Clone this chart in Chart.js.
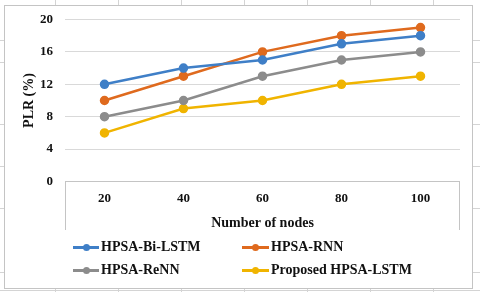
<!DOCTYPE html>
<html>
<head>
<meta charset="utf-8">
<script src="https://cdn.jsdelivr.net/npm/chart.js@4.4.1/dist/chart.umd.min.js"></script>
<style>
  html, body { margin: 0; padding: 0; background: #ffffff; }
  body { width: 480px; height: 292px; position: relative; overflow: hidden; }
  .vl { position: absolute; top: 0; width: 1px; height: 292px; background: #d4d4d4; }
  .hl { position: absolute; left: 0; height: 1px; width: 480px; background: #d4d4d4; }
  #frame { position: absolute; left: 4px; top: 5px; width: 467px; height: 282px;
           border: 1px solid #c4c4c4; background: #ffffff; }
  #frame canvas { position: absolute; left: 0; top: 0; }
  #legend { position: absolute; left: 0; top: 0; width: 480px; height: 292px; pointer-events: none; }
  .li { position: absolute; height: 20px; display: flex; align-items: center;
        font: bold 14px "Liberation Serif", "Times New Roman", serif; color: #111; white-space: nowrap; }
  .sw { position: relative; height: 20px; margin-right: 2px; }
  .sw .ln { position: absolute; left: 0; right: 0; top: 9px; height: 3px; }
  .sw .dt { position: absolute; width: 7px; height: 7px; border-radius: 50%; top: 7px; }
</style>
</head>
<body>
<div id="bg"></div>
<div id="frame"><canvas id="c" width="467" height="282"></canvas></div>
<div id="legend"></div>
<script>
// ---- data ----
const categories = ["20", "40", "60", "80", "100"];
const biLstm   = [12, 14, 15, 17, 18];
const rnn      = [10, 13, 16, 18, 19];
const reNN     = [8, 10, 13, 15, 16];
const proposed = [6, 9, 10, 12, 13];
const seriesNames = ["HPSA-Bi-LSTM", "HPSA-RNN", "HPSA-ReNN", "Proposed HPSA-LSTM"];
const yTicks = [0, 4, 8, 12, 16, 20];
const xTitle = "Number of nodes";
const yTitle = "PLR (%)";

// ---- spreadsheet background lines ----
const bg = document.getElementById('bg');
[55, 118, 181, 244, 307, 370, 433].forEach(x => {
  const d = document.createElement('div'); d.className = 'vl'; d.style.left = x + 'px'; bg.appendChild(d);
});
[40, 62, 124, 166, 208, 272, 290].forEach(y => {
  const d = document.createElement('div'); d.className = 'hl'; d.style.top = y + 'px'; bg.appendChild(d);
});

const colors = ["#3f7fc7", "#df6a1e", "#8c8c8c", "#f0b400"];
const seriesData = [biLstm, rnn, reNN, proposed];

const serif = "'Liberation Serif', 'Times New Roman', serif";

const boxPlugin = {
  id: 'axisBox',
  afterDraw(chart) {
    const { ctx, chartArea } = chart;
    ctx.save();
    ctx.strokeStyle = '#c4c4c4';
    ctx.lineWidth = 1;
    ctx.beginPath();
    const l = Math.round(chartArea.left) + 0.5, r = Math.round(chartArea.right) - 0.5;
    const t = chartArea.bottom, b = chartArea.bottom + 48.5;
    ctx.moveTo(l, t); ctx.lineTo(l, b);
    ctx.moveTo(r, t); ctx.lineTo(r, b);
    ctx.stroke();
    ctx.restore();
  }
};

const chart = new Chart(document.getElementById('c'), {
  type: 'line',
  data: {
    labels: categories,
    datasets: seriesData.map((d, i) => ({
      label: seriesNames[i],
      data: d,
      borderColor: colors[i],
      backgroundColor: colors[i],
      pointBackgroundColor: colors[i],
      pointBorderColor: colors[i],
      borderWidth: 2.5,
      pointRadius: 3.5,
      tension: 0
    }))
  },
  options: {
    responsive: false,
    animation: false,
    layout: { padding: { left: 0, right: 12, top: 13.5, bottom: 0 } },
    plugins: { legend: { display: false }, tooltip: { enabled: false } },
    scales: {
      x: {
        offset: true,
        grid: { display: false, drawTicks: false },
        border: { display: false },
        ticks: { color: '#111', padding: 9, font: { family: serif, size: 13, weight: 'bold' } },
        title: { display: true, text: xTitle, color: '#111', padding: { top: 0, bottom: 56 },
                 font: { family: serif, size: 14, weight: 'bold' } },
        afterFit(s) { s.height = 106.5; s.paddingLeft = 0; s.paddingRight = 0; }
      },
      y: {
        min: 0, max: 20,
        afterBuildTicks(s) { s.ticks = yTicks.map(v => ({ value: v })); },
        grid: { drawTicks: false, color: c => (c.tick && c.tick.value === 0) ? '#c4c4c4' : '#d9d9d9', lineWidth: 1 },
        border: { display: false },
        ticks: { color: '#111', padding: 12, font: { family: serif, size: 13, weight: 'bold' } },
        title: { display: true, text: yTitle, color: '#111', padding: { top: 16, bottom: 0 },
                 font: { family: serif, size: 14, weight: 'bold' } },
        afterFit(s) { s.width = 60; s.paddingTop = 0; s.paddingBottom = 0; }
      }
    }
  },
  plugins: [boxPlugin]
});

// ---- HTML legend, 2 x 2 ----
const legend = document.getElementById('legend');
const pos = [
  { x: 73, y: 237, w: 26 },
  { x: 242, y: 237, w: 27 },
  { x: 73, y: 260, w: 26 },
  { x: 242, y: 260, w: 27 }
];
chart.data.datasets.forEach((ds, i) => {
  const it = document.createElement('div');
  it.className = 'li';
  it.style.left = pos[i].x + 'px';
  it.style.top = pos[i].y + 'px';
  const sw = document.createElement('div');
  sw.className = 'sw';
  sw.style.width = pos[i].w + 'px';
  const ln = document.createElement('div'); ln.className = 'ln'; ln.style.background = ds.borderColor;
  const dt = document.createElement('div'); dt.className = 'dt'; dt.style.background = ds.borderColor;
  dt.style.left = (pos[i].w / 2 - 3.5) + 'px';
  sw.appendChild(ln); sw.appendChild(dt);
  const tx = document.createElement('span'); tx.textContent = ds.label;
  it.appendChild(sw); it.appendChild(tx);
  legend.appendChild(it);
});
</script>
</body>
</html>
